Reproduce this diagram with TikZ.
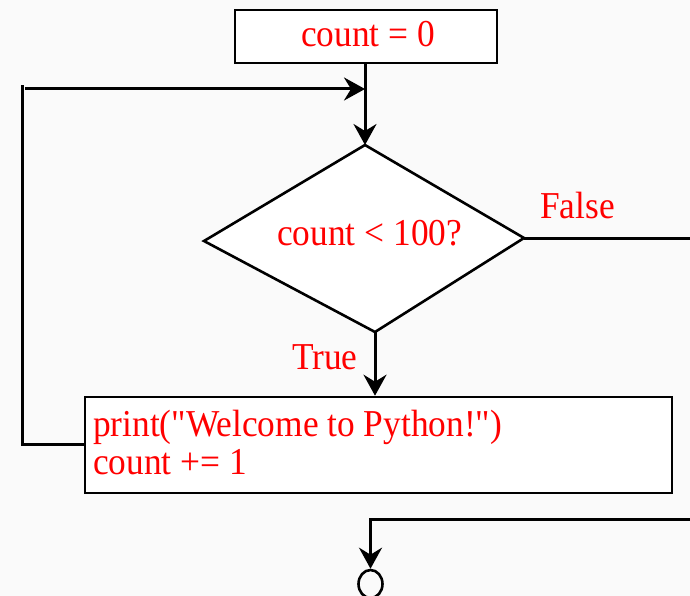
\documentclass[tikz,border=0pt]{standalone}
\usepackage{fontspec}
\setmainfont{Liberation Serif}[FakeStretch=0.93, Ligatures=TeXOff]
\usetikzlibrary{arrows.meta,shapes.geometric}
\definecolor{labelred}{RGB}{255,0,0}
\definecolor{paper}{RGB}{250,250,250}
\tikzset{
  txt/.style={text=labelred, inner sep=0pt, font=\fontsize{38}{38}\selectfont},
  stepbox/.style={draw=black, line width=2.6pt, fill=white, inner sep=0pt},
  flow/.style={line width=3pt, draw=black},
  tip/.style={-{Stealth[length=21pt, width=23pt, inset=7pt]}},
}
\begin{document}
\begin{tikzpicture}[x=1pt, y=-1pt]
  % canvas
  \fill[paper] (0,0) rectangle (690,596);
  \useasboundingbox (0,0) rectangle (690,596);

  % initialisation box
  \node[stepbox, minimum width=262pt, minimum height=53pt] (init) at (366,36.5) {};
  \node[txt, anchor=base west] (initlbl) at (301,47) {count = 0};

  % loop condition (diamond)
  \coordinate (dtop) at (365,145);
  \coordinate (dright) at (524,238);
  \coordinate (dbot) at (375,332);
  \coordinate (dleft) at (204,241);
  \draw[line width=2.6pt, fill=white, line join=miter] (dtop) -- (dright) -- (dbot) -- (dleft) -- cycle;
  \node[txt, anchor=base west] (cond) at (277,245) {count < 100?};

  % loop body
  \node[stepbox, minimum width=587pt, minimum height=96pt] (body) at (378.5,445) {};
  \node[txt, anchor=base west] (line1) at (93,436) {print("Welcome to Python!")};
  \node[txt, anchor=base west] (line2) at (93,474) {count += 1};

  % branch labels
  \node[txt, anchor=base west] (truelbl) at (292,369) {True};
  \node[txt, anchor=base west] (falselbl) at (540,218) {False};

  % loop exit marker
  \node[draw=black, line width=2.6pt, ellipse, minimum width=24pt, minimum height=28pt, inner sep=0pt] (stop) at (370.5,584) {};

  % helper points
  \coordinate (join) at (365,89);
  \coordinate (leftback) at (22,444);
  \coordinate (leftup) at (22,85);
  \coordinate (leftstart) at (25,89);
  \coordinate (falseend) at (690,238);
  \coordinate (exitin) at (690,519);
  \coordinate (exitcorner) at (370.5,519);

  % connectors
  \draw[flow] (init.south -| join) -- (join);
  \draw[flow, tip] (join) -- (dtop);
  \draw[flow] (body.west |- leftback) -- (leftback) -- (leftup);
  \draw[flow, tip] (leftstart) -- (join);
  \draw[flow, tip] (dbot) -- (dbot |- body.north);
  \draw[flow] (dright) -- (falseend);
  \draw[flow, tip] (exitin) -- (exitcorner) -- (stop.north);
\end{tikzpicture}
\end{document}
